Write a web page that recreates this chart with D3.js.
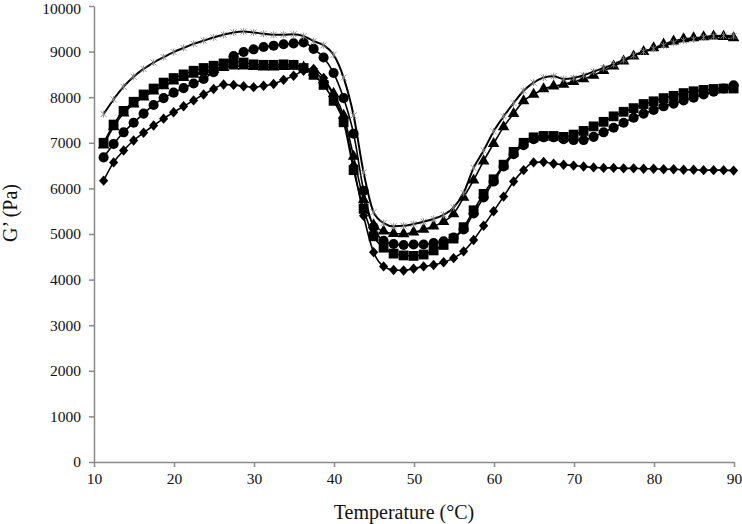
<!DOCTYPE html>
<html><head><meta charset="utf-8">
<script src="https://cdn.jsdelivr.net/npm/d3@7"></script>
<style>body{margin:0;background:#fff}svg{display:block}</style>
</head><body>
<svg id="chart" width="742" height="524"></svg>
<script>
const temperature = [11.2,12.45,13.7,14.95,16.2,17.45,18.7,19.95,21.2,22.45,23.7,24.95,26.2,27.45,28.7,29.95,31.2,32.45,33.7,34.95,36.2,37.45,38.7,39.95,41.2,42.45,43.7,44.95,46.2,47.45,48.7,49.95,51.2,52.45,53.7,54.95,56.2,57.45,58.7,59.95,61.2,62.45,63.7,64.95,66.2,67.45,68.7,69.95,71.2,72.45,73.7,74.95,76.2,77.45,78.7,79.95,81.2,82.45,83.7,84.95,86.2,87.45,88.7,89.95];
const diamondSeries = [6170,6570,6830,7050,7220,7380,7530,7670,7800,7930,8060,8180,8280,8270,8240,8220,8250,8290,8380,8470,8580,8620,8420,8020,7500,6500,5400,4600,4290,4210,4200,4240,4290,4320,4380,4470,4620,4870,5180,5500,5820,6150,6400,6570,6580,6540,6520,6500,6480,6460,6450,6450,6440,6440,6430,6430,6420,6420,6410,6410,6400,6400,6400,6390];
const squareSeries = [7000,7400,7700,7900,8060,8190,8320,8420,8500,8580,8640,8690,8740,8790,8760,8720,8710,8710,8720,8710,8640,8490,8270,7920,7450,6400,5550,4950,4700,4570,4530,4520,4550,4640,4760,4900,5150,5520,5880,6200,6520,6800,7000,7120,7150,7150,7130,7180,7260,7360,7460,7580,7680,7760,7850,7910,7980,8030,8090,8130,8160,8180,8190,8190];
const circleSeries = [6680,6975,7230,7440,7640,7830,7980,8100,8200,8300,8400,8550,8720,8900,8990,9050,9100,9130,9160,9180,9200,9060,8870,8530,7980,7200,5950,5150,4850,4780,4760,4770,4770,4800,4840,4920,5100,5450,5800,6150,6480,6750,6950,7080,7120,7120,7080,7060,7060,7130,7230,7330,7440,7550,7640,7720,7800,7860,7930,7990,8060,8120,8190,8260];
const triangleSeries = [6950,7350,7650,7850,8000,8130,8250,8350,8430,8500,8560,8610,8650,8680,8680,8670,8660,8660,8670,8680,8660,8550,8380,8080,7600,6700,5750,5200,5060,5010,5000,5040,5100,5170,5270,5440,5800,6180,6600,6980,7350,7640,7920,8060,8180,8240,8280,8340,8400,8480,8580,8680,8790,8900,9000,9080,9160,9230,9280,9300,9320,9340,9330,9300];
const starSeries = [7630,7950,8230,8450,8620,8760,8880,8990,9080,9170,9240,9310,9370,9420,9440,9420,9390,9370,9370,9380,9340,9230,9140,8930,8430,7600,6350,5480,5240,5170,5180,5220,5270,5330,5420,5580,5900,6450,6830,7250,7580,7870,8140,8320,8430,8460,8400,8420,8480,8560,8640,8720,8820,8920,9000,9060,9130,9190,9240,9270,9310,9340,9350,9340];
const xTicks = [10,20,30,40,50,60,70,80,90];
const yTicks = [0,1000,2000,3000,4000,5000,6000,7000,8000,9000,10000];
const xTitle = "Temperature (°C)";
const yTitle = "G’ (Pa)";

const svg = d3.select("#chart");
const x = d3.scaleLinear().domain([10, 90]).range([94, 734]);
const y = d3.scaleLinear().domain([0, 10000]).range([462, 6]);
const axisColor = "#8a8a8a";
const font = "'Liberation Serif','Times New Roman',serif";

const gx = svg.append("g").attr("transform", `translate(0,${y(0)})`)
  .call(d3.axisBottom(x).tickValues(xTicks).tickSize(5).tickSizeOuter(0).tickPadding(6).tickFormat(d3.format("d")));
const gy = svg.append("g").attr("transform", `translate(${x(10)},0)`)
  .call(d3.axisLeft(y).tickValues(yTicks).tickSize(5).tickSizeOuter(0).tickPadding(8).tickFormat(d3.format("d")));
[gx, gy].forEach(g => {
  g.select(".domain").attr("stroke", axisColor).attr("stroke-width", 1.5);
  g.selectAll(".tick line").attr("stroke", axisColor).attr("stroke-width", 1.5);
  g.selectAll(".tick text").attr("fill", "#111").attr("font-family", font).attr("font-size", 15.5);
});
// keep the topmost label inside the page
gy.selectAll(".tick text").filter(d => d === 10000).attr("y", 3);

svg.append("text").attr("x", 404).attr("y", 519).attr("text-anchor", "middle")
  .attr("font-family", font).attr("font-size", 20).attr("fill", "#111").text(xTitle);
svg.append("text").attr("transform", "translate(17,213) rotate(-90)").attr("text-anchor", "middle")
  .attr("font-family", font).attr("font-size", 20).attr("fill", "#111").text(yTitle);

const diamondPath = "M0,-5.2L4.6,0L0,5.2L-4.6,0Z";
const series = [
  {name: "diamond", values: diamondSeries, type: "diamond"},
  {name: "square", values: squareSeries, sym: d3.symbolSquare, size: 96},
  {name: "circle", values: circleSeries, sym: d3.symbolCircle, size: 80},
  {name: "triangle", values: triangleSeries, sym: d3.symbolTriangle, size: 58},
  {name: "star", values: starSeries, type: "star"}
];

const line = d3.line().x(d => x(d[0])).y(d => y(d[1])).curve(d3.curveMonotoneX);

series.forEach(s => {
  const pts = temperature.map((t, i) => [t, s.values[i]]);
  const g = svg.append("g").attr("class", "series-" + s.name);
  g.append("path").datum(pts).attr("d", line).attr("fill", "none")
    .attr("stroke", "#000").attr("stroke-width", s.type === "star" ? 2 : 1.6);
  const marks = g.selectAll("path.mark").data(pts).join("path").attr("class", "mark")
    .attr("transform", d => `translate(${x(d[0])},${y(d[1])})`);
  if (s.type === "star") {
    marks.attr("d", "M-3,-3L3,3M-3,3L3,-3M0,-3.5L0,3.5")
      .attr("stroke", "#888").attr("stroke-width", 0.9).attr("fill", "none");
  } else if (s.type === "diamond") {
    marks.attr("d", diamondPath).attr("fill", "#000");
  } else {
    marks.attr("d", d3.symbol().type(s.sym).size(s.size)).attr("fill", "#000");
  }
});
</script>
</body></html>
